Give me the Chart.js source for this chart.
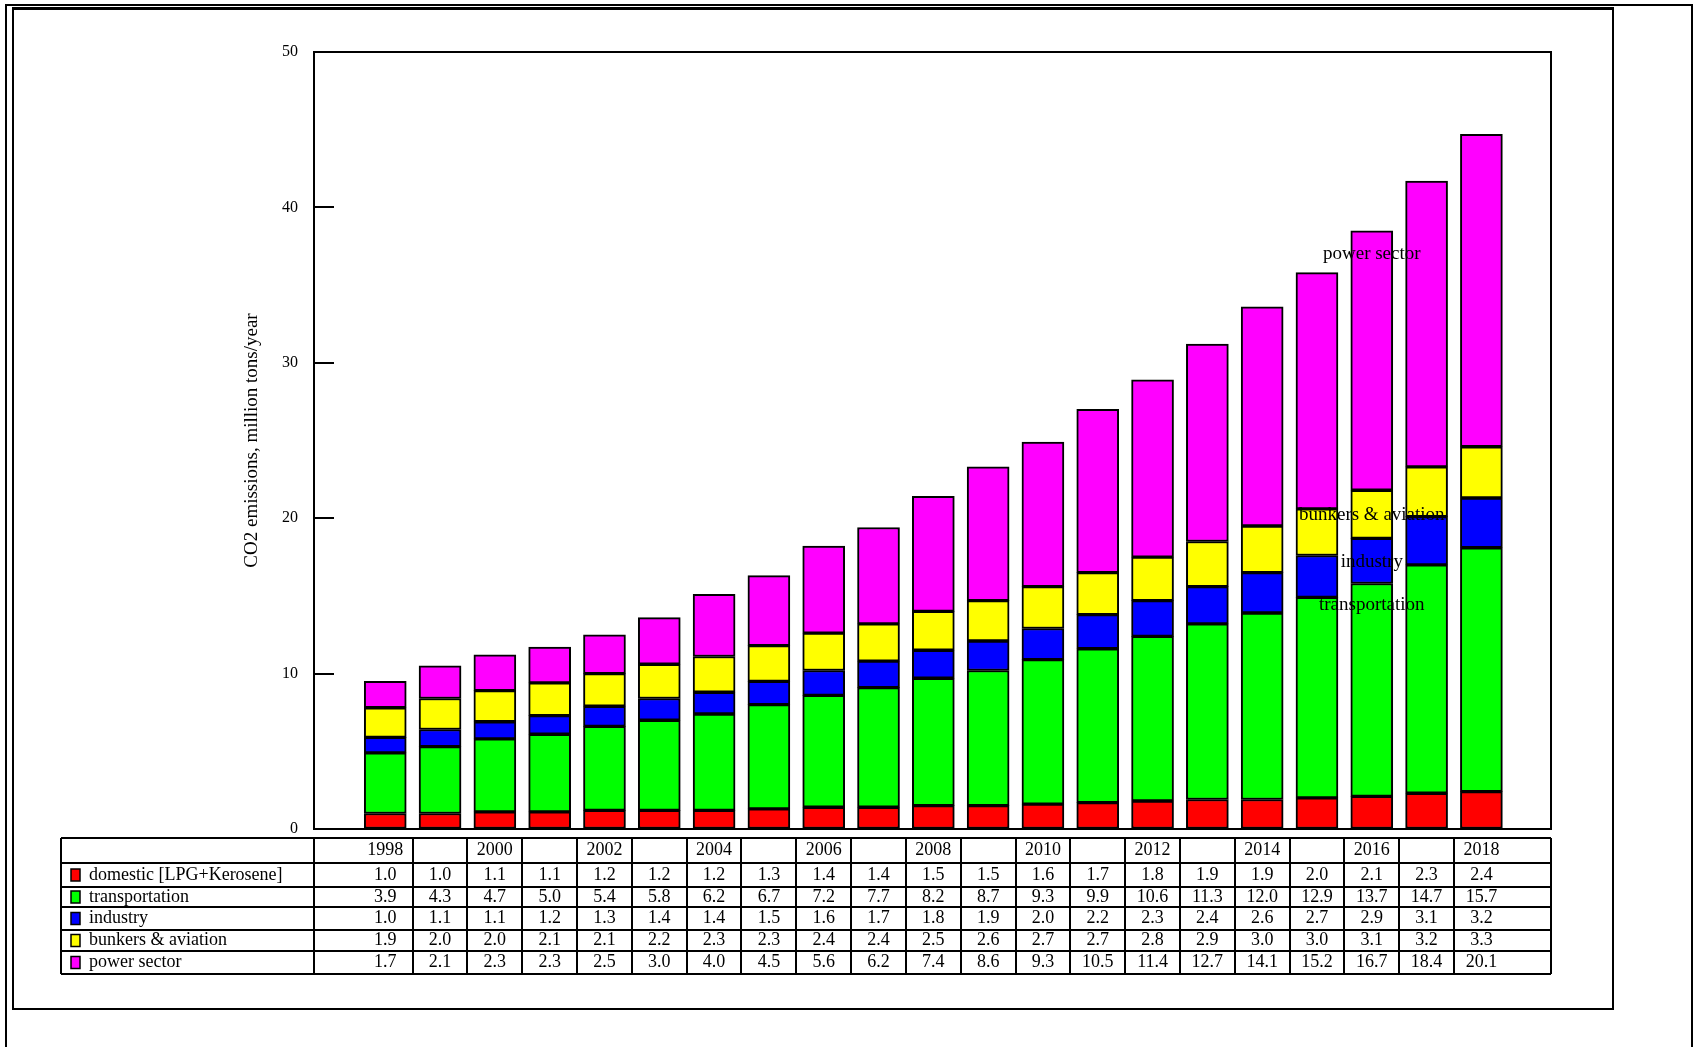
<!DOCTYPE html>
<html>
<head>
<meta charset="utf-8">
<script src="https://cdn.jsdelivr.net/npm/chart.js@4.4.1/dist/chart.umd.min.js"></script>
<style>
  body { margin: 0; background: #fff; }
  #wrap { position: relative; width: 1694px; height: 1047px; overflow: hidden; }
  .frame { position: absolute; border: 2px solid #000; box-sizing: border-box; }
  #outer { left: 5px; top: 4px; width: 1688px; height: 1100px; }
  #inner { left: 12px; top: 7px; width: 1602px; height: 1003px; border-top-width: 3px; }
  canvas { position: absolute; left: 0; top: 0; }
</style>
</head>
<body>
<div id="wrap">
  <div class="frame" id="outer"></div>
  <div class="frame" id="inner"></div>
  <canvas id="co2" width="1694" height="1047"></canvas>
</div>
<script>
// Years and the header labels of the table (only even years are printed)
const years = [1998, 1999, 2000, 2001, 2002, 2003, 2004, 2005, 2006, 2007, 2008,
               2009, 2010, 2011, 2012, 2013, 2014, 2015, 2016, 2017, 2018];
const yearLabels = ['1998', '', '2000', '', '2002', '', '2004', '', '2006', '', '2008',
                    '', '2010', '', '2012', '', '2014', '', '2016', '', '2018'];

// CO2 emissions by sector, million tons/year
const domestic = [1.0, 1.0, 1.1, 1.1, 1.2, 1.2, 1.2, 1.3, 1.4, 1.4, 1.5,
                  1.5, 1.6, 1.7, 1.8, 1.9, 1.9, 2.0, 2.1, 2.3, 2.4];
const transportation = [3.9, 4.3, 4.7, 5.0, 5.4, 5.8, 6.2, 6.7, 7.2, 7.7, 8.2,
                        8.7, 9.3, 9.9, 10.6, 11.3, 12.0, 12.9, 13.7, 14.7, 15.7];
const industry = [1.0, 1.1, 1.1, 1.2, 1.3, 1.4, 1.4, 1.5, 1.6, 1.7, 1.8,
                  1.9, 2.0, 2.2, 2.3, 2.4, 2.6, 2.7, 2.9, 3.1, 3.2];
const bunkers = [1.9, 2.0, 2.0, 2.1, 2.1, 2.2, 2.3, 2.3, 2.4, 2.4, 2.5,
                 2.6, 2.7, 2.7, 2.8, 2.9, 3.0, 3.0, 3.1, 3.2, 3.3];
const power = [1.7, 2.1, 2.3, 2.3, 2.5, 3.0, 4.0, 4.5, 5.6, 6.2, 7.4,
               8.6, 9.3, 10.5, 11.4, 12.7, 14.1, 15.2, 16.7, 18.4, 20.1];

const seriesNames = ['domestic [LPG+Kerosene]', 'transportation', 'industry',
                     'bunkers & aviation', 'power sector'];
const seriesColors = ['#ff0000', '#00ff00', '#0000ff', '#ffff00', '#ff00ff'];
const yTicks = [0, 10, 20, 30, 40, 50];

// Labels written inside the 2016 bar
const noteTexts = ['power sector', 'bunkers & aviation', 'industry', 'transportation'];
const noteYear = 2016;
const noteValues = [37.0, 20.2, 17.15, 14.4];

const allSeries = [domestic, transportation, industry, bunkers, power];
const serif = 'Liberation Serif';

// Table row edges (pixels) under the plot
const rowEdges = [838, 863, 887, 907, 930, 951, 974];
const tableLeft = 61;

const tablePlugin = {
    id: 'tablePlugin',
    afterDraw(chart) {
        const ctx = chart.ctx;
        const area = chart.chartArea;
        const xs = chart.scales.x;
        const ys = chart.scales.y;
        ctx.save();
        ctx.strokeStyle = '#000';
        ctx.lineWidth = 2;

        // plot frame
        ctx.strokeRect(area.left, area.top, area.right - area.left, area.bottom - area.top);

        // inward ticks on the y axis
        ctx.beginPath();
        yTicks.forEach(v => {
            const py = Math.round(ys.getPixelForValue(v));
            ctx.moveTo(area.left, py);
            ctx.lineTo(area.left + 20, py);
        });
        ctx.stroke();

        // annotations
        ctx.fillStyle = '#000';
        ctx.font = '19px "' + serif + '"';
        ctx.textAlign = 'center';
        ctx.textBaseline = 'middle';
        noteTexts.forEach((t, i) => {
            ctx.fillText(t, xs.getPixelForValue(noteYear), ys.getPixelForValue(noteValues[i]));
        });

        // table grid
        const colEdges = [tableLeft, area.left];
        for (let i = 0; i < years.length - 1; i++) {
            colEdges.push(xs.getPixelForValue(years[i] + 0.5));
        }
        colEdges.push(area.right);
        const top = rowEdges[0];
        const bottom = rowEdges[rowEdges.length - 1];
        ctx.beginPath();
        rowEdges.forEach(ry => {
            ctx.moveTo(tableLeft, ry);
            ctx.lineTo(area.right, ry);
        });
        colEdges.forEach(cx => {
            ctx.moveTo(Math.round(cx), top);
            ctx.lineTo(Math.round(cx), bottom);
        });
        ctx.stroke();

        // header years and values
        ctx.font = '18px "' + serif + '"';
        years.forEach((yr, i) => {
            const cx = xs.getPixelForValue(yr);
            ctx.fillText(yearLabels[i], cx, (rowEdges[0] + rowEdges[1]) / 2);
            allSeries.forEach((s, k) => {
                ctx.fillText(s[i].toFixed(1), cx, (rowEdges[k + 1] + rowEdges[k + 2]) / 2);
            });
        });

        // row labels with colour keys
        ctx.textAlign = 'left';
        seriesNames.forEach((name, k) => {
            const cy = (rowEdges[k + 1] + rowEdges[k + 2]) / 2;
            ctx.fillStyle = seriesColors[k];
            ctx.fillRect(71, cy - 6, 9, 12);
            ctx.lineWidth = 1.5;
            ctx.strokeRect(71, cy - 6, 9, 12);
            ctx.fillStyle = '#000';
            ctx.fillText(name, 89, cy);
        });
        ctx.restore();
    }
};

new Chart(document.getElementById('co2'), {
    type: 'bar',
    data: {
        datasets: allSeries.map((s, k) => ({
            label: seriesNames[k],
            data: years.map((yr, i) => ({ x: yr, y: s[i] })),
            backgroundColor: seriesColors[k],
            borderColor: '#000',
            borderWidth: 2,
            borderSkipped: false,
            barThickness: 42
        }))
    },
    options: {
        responsive: false,
        animation: false,
        layout: {
            padding: { left: 239, right: 143, top: 52, bottom: 218 }
        },
        plugins: {
            legend: { display: false },
            tooltip: { enabled: false }
        },
        scales: {
            x: {
                type: 'linear',
                stacked: true,
                offset: false,
                grid: { offset: false },
                min: 1996.7,
                max: 2019.27,
                display: false
            },
            y: {
                stacked: true,
                min: 0,
                max: 50,
                afterFit(scale) { scale.width = 75; },
                afterBuildTicks(scale) { scale.ticks = yTicks.map(v => ({ value: v })); },
                ticks: {
                    padding: 16,
                    color: '#000',
                    font: { family: serif, size: 16 }
                },
                grid: { drawOnChartArea: false, drawTicks: false },
                border: { display: false },
                title: {
                    display: true,
                    text: 'CO2 emissions, million tons/year',
                    color: '#000',
                    font: { family: serif, size: 19 },
                    padding: { top: 2, bottom: 4 }
                }
            }
        }
    },
    plugins: [tablePlugin]
});
</script>
</body>
</html>
